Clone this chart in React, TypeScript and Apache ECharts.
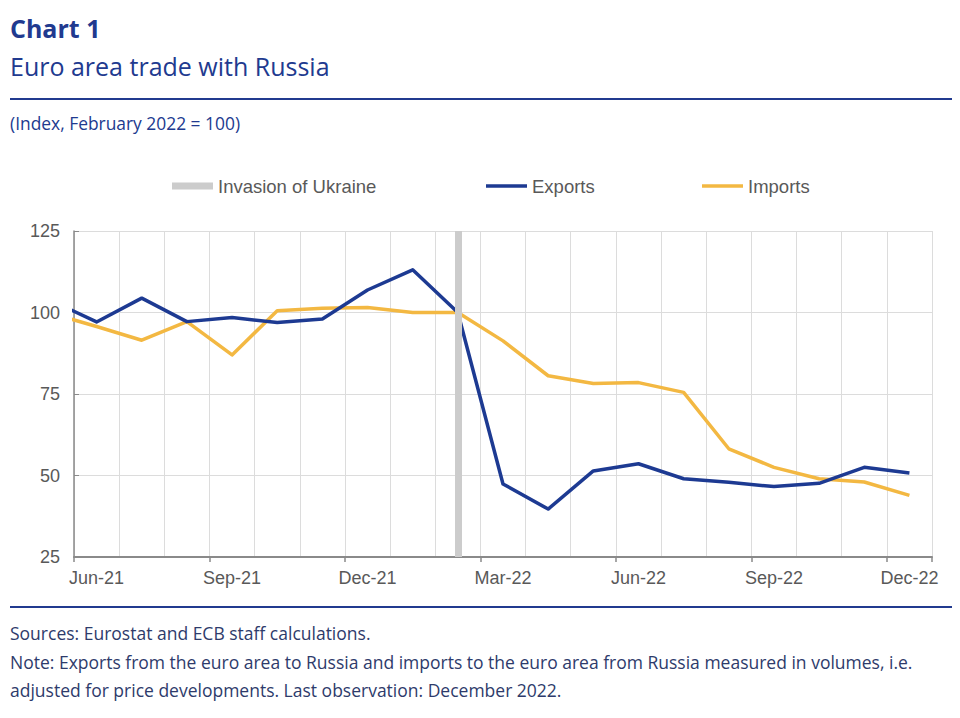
import React, { useEffect, useRef } from "react";
import * as echarts from "echarts";

// Months, May-21 is only partly visible at the left edge (clipped)
const months = [
  "May-21", "Jun-21", "Jul-21", "Aug-21", "Sep-21", "Oct-21", "Nov-21", "Dec-21",
  "Jan-22", "Feb-22", "Mar-22", "Apr-22", "May-22", "Jun-22", "Jul-22", "Aug-22",
  "Sep-22", "Oct-22", "Nov-22", "Dec-22",
];
const axisMonths = months.slice(1);
const exportsIdx = [
  103.6, 97.1, 104.4, 97.2, 98.5, 96.9, 98.0, 106.9, 113.1, 100.0,
  47.4, 39.7, 51.4, 53.6, 49.0, 47.9, 46.6, 47.6, 52.5, 50.8,
];
const importsIdx = [
  99.7, 95.7, 91.5, 97.2, 87.0, 100.5, 101.3, 101.5, 100.0, 100.0,
  91.3, 80.6, 78.2, 78.5, 75.5, 58.2, 52.5, 49.0, 48.0, 43.9,
];
const invasionMonth = "Feb-22";
const yTicks = [25, 50, 75, 100, 125];

const titleText = "Chart 1";
const subtitleText = "Euro area trade with Russia";
const unitText = "(Index, February 2022 = 100)";
const noteLines = [
  "Sources: Eurostat and ECB staff calculations.",
  "Note: Exports from the euro area to Russia and imports to the euro area from Russia measured in volumes, i.e.",
  "adjusted for price developments. Last observation: December 2022.",
];

const BLUE = "#1d3a92";
const YELLOW = "#f3b842";
const GREY_BAR = "#cccccc";
const HEAD = "#213a8f";
const NOTE = "#2e3b6b";
const AXIS_TXT = "#595959";
const GRID = "#dcdcdc";
const AXIS_LINE = "#8a8a8a";
const SANS = "'Liberation Sans', Arial, sans-serif";
const OPEN = "'Open Sans', sans-serif";

const toXY = (vals: number[]) => vals.map((v, i) => [i - 0.5, v]);

export default function App() {
  const ref = useRef<HTMLDivElement>(null);
  useEffect(() => {
    document.body.style.margin = "0";
    if (!ref.current) return;
    const chart = echarts.init(ref.current, null, { renderer: "svg" });
    const legendText = { fontFamily: SANS, fontSize: 18.5, color: AXIS_TXT, lineHeight: 22 };
    const option: any = {
      animation: false,
      backgroundColor: "#ffffff",
      grid: { left: 74, right: 28, top: 231, bottom: 161, containLabel: false },
      legend: [
        {
          data: ["Invasion of Ukraine"], left: 172, top: 175, padding: 0, icon: "rect",
          itemWidth: 41, itemHeight: 7, selectedMode: false, textStyle: legendText,
        },
        {
          data: ["Exports"], left: 486, top: 175, padding: 0, icon: "rect",
          itemWidth: 41, itemHeight: 3.5, selectedMode: false, textStyle: legendText,
        },
        {
          data: ["Imports"], left: 702, top: 175, padding: 0, icon: "rect",
          itemWidth: 41, itemHeight: 3.5, selectedMode: false, textStyle: legendText,
        },
      ],
      xAxis: [
        {
          type: "category",
          data: axisMonths,
          boundaryGap: true,
          axisLine: { show: true, lineStyle: { color: AXIS_LINE, width: 2 } },
          axisTick: { show: true, interval: 2, length: 5, lineStyle: { color: AXIS_LINE, width: 1.5 } },
          axisLabel: { interval: 2, fontFamily: SANS, fontSize: 18, color: AXIS_TXT, margin: 12 },
          splitLine: { show: true, interval: 0, lineStyle: { color: GRID, width: 1 } },
        },
        { type: "value", min: 0, max: 19, show: false },
      ],
      yAxis: {
        type: "value",
        min: yTicks[0],
        max: yTicks[yTicks.length - 1],
        interval: 25,
        axisLine: { show: true, lineStyle: { color: AXIS_LINE, width: 1.5 } },
        axisTick: { show: true, inside: true, length: 5, lineStyle: { color: AXIS_LINE } },
        axisLabel: { fontFamily: SANS, fontSize: 18, color: AXIS_TXT, margin: 14 },
        splitLine: { show: true, lineStyle: { color: GRID, width: 1 } },
      },
      series: [
        {
          name: "Invasion of Ukraine",
          type: "line",
          xAxisIndex: 1,
          data: [],
          color: GREY_BAR,
          itemStyle: { color: GREY_BAR },
          lineStyle: { color: GREY_BAR },
          z: 1,
          markLine: {
            silent: true,
            symbol: "none",
            label: { show: false },
            lineStyle: { color: GREY_BAR, width: 7, type: "solid" },
            data: [{ xAxis: months.indexOf(invasionMonth) - 0.5 }],
          },
        },
        {
          name: "Exports",
          type: "line",
          xAxisIndex: 1,
          data: toXY(exportsIdx),
          showSymbol: false,
          symbol: "none",
          color: BLUE,
          itemStyle: { color: BLUE },
          lineStyle: { color: BLUE, width: 3.5, join: "round" },
          z: 4,
        },
        {
          name: "Imports",
          type: "line",
          xAxisIndex: 1,
          data: toXY(importsIdx),
          showSymbol: false,
          symbol: "none",
          color: YELLOW,
          itemStyle: { color: YELLOW },
          lineStyle: { color: YELLOW, width: 3.5, join: "round" },
          z: 3,
        },
      ],
      graphic: [
        { type: "text", x: 10, y: 28, style: { text: titleText, font: `bold 25px ${OPEN}`, fill: HEAD, verticalAlign: "middle" } },
        { type: "text", x: 10, y: 66, style: { text: subtitleText, font: `25px ${OPEN}`, fill: HEAD, verticalAlign: "middle" } },
        { type: "line", shape: { x1: 10, y1: 99, x2: 952, y2: 99 }, style: { stroke: HEAD, lineWidth: 2 } },
        { type: "text", x: 10, y: 123, style: { text: unitText, font: `17.4px ${OPEN}`, fill: HEAD, verticalAlign: "middle" } },
        { type: "line", shape: { x1: 10, y1: 607, x2: 952, y2: 607 }, style: { stroke: HEAD, lineWidth: 2 } },
        ...noteLines.map((t, i) => ({
          type: "text",
          x: 10,
          y: 633 + i * 28.5,
          style: { text: t, font: `17.5px ${OPEN}`, fill: NOTE, verticalAlign: "middle" },
        })),
      ],
    };
    chart.setOption(option);
    return () => chart.dispose();
  }, []);
  return (
    <div
      ref={ref}
      style={{ position: "absolute", left: 0, top: 0, width: 960, height: 718, background: "#fff" }}
    />
  );
}
